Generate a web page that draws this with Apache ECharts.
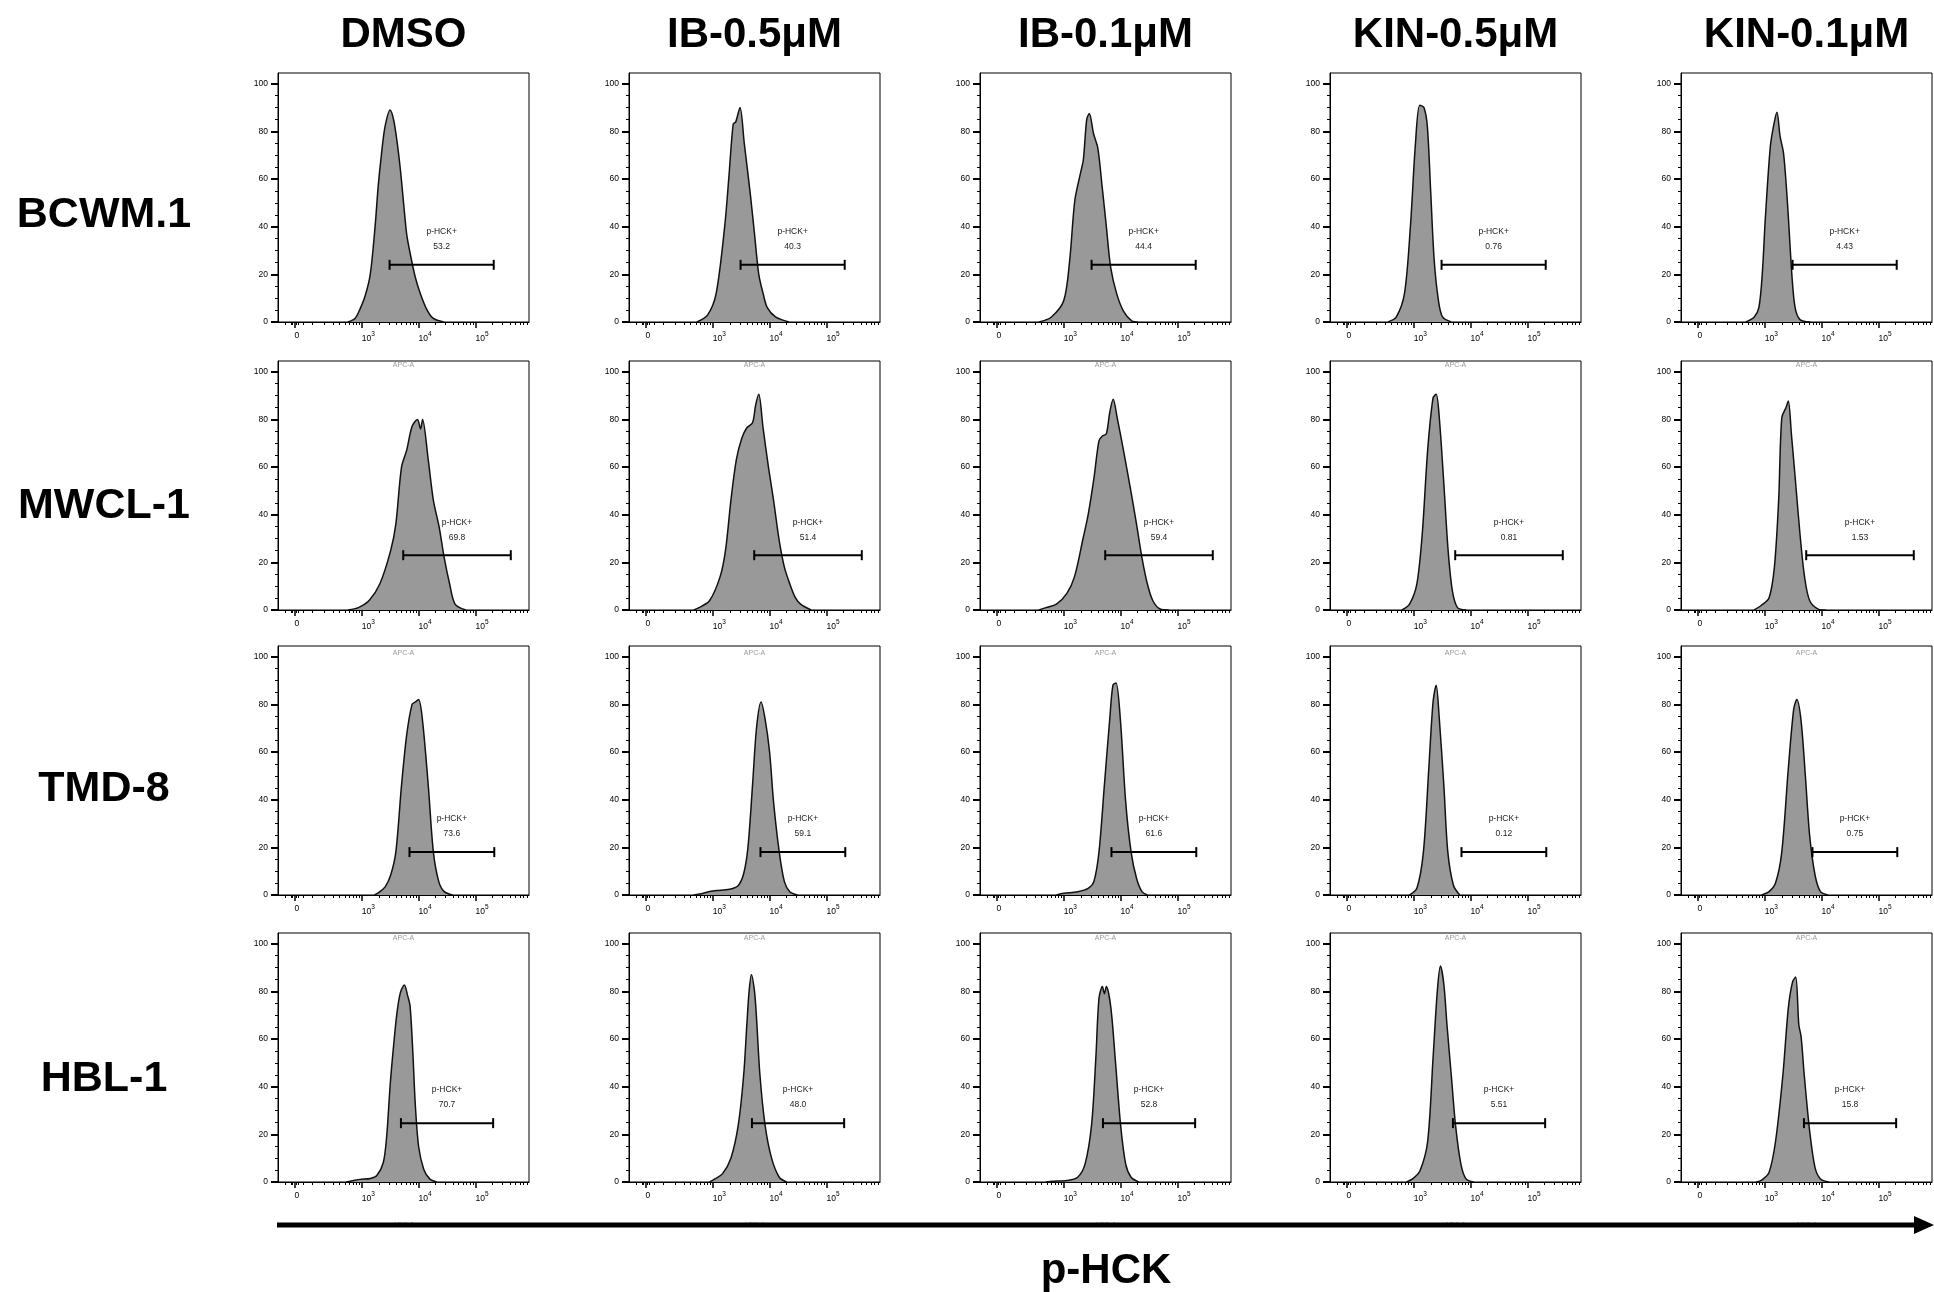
<!DOCTYPE html>
<html>
<head>
<meta charset="utf-8">
<title>p-HCK flow histograms</title>
<script src="https://cdn.jsdelivr.net/npm/echarts@6/dist/echarts.min.js"></script>
<style>
    html, body { margin: 0; padding: 0; background: #fff; }
    #main { width: 1934px; height: 1292px; }
</style>
</head>
<body>
<div id="main"></div>
<script>
// column / row headers
const conditions = ['DMSO', 'IB-0.5μM', 'IB-0.1μM', 'KIN-0.5μM', 'KIN-0.1μM'];
const cellLines = ['BCWM.1', 'MWCL-1', 'TMD-8', 'HBL-1'];

// % p-HCK+ shown under each gate (order = conditions)
const pctBCWM1 = ['53.2', '40.3', '44.4', '0.76', '4.43'];
const pctMWCL1 = ['69.8', '51.4', '59.4', '0.81', '1.53'];
const pctTMD8 = ['73.6', '59.1', '61.6', '0.12', '0.75'];
const pctHBL1 = ['70.7', '48.0', '52.8', '5.51', '15.8'];

// gate: [log10 APC-A start, log10 APC-A end, height in % of max]
const gateBCWM1 = [3.49, 5.32, 24];
const gateMWCL1 = [3.73, 5.62, 23];
const gateTMD8 = [3.84, 5.33, 18];
const gateHBL1 = [3.69, 5.31, 24.7];

// histograms: [log10 APC-A, % of max], one curve per condition
const histBCWM1 = [
    [[2.75,0],[2.88,1.5],[2.97,5.5],[3.06,11],[3.15,20],[3.235,40],[3.29,57],[3.35,71],[3.41,82],[3.5,89],[3.56,85],[3.62,76],[3.68,64],[3.74,49],[3.79,37],[3.85,29],[3.94,19],[4.03,12],[4.15,5],[4.26,1.5],[4.44,0]],
    [[2.715,0],[2.91,3],[3.06,12],[3.21,40],[3.285,61],[3.36,83],[3.405,84],[3.48,90],[3.555,75],[3.66,54],[3.735,37],[3.81,20],[3.886,12],[3.96,6],[4.11,2],[4.34,0]],
    [[2.55,0],[2.775,2],[3.0,9],[3.105,26],[3.195,51],[3.3,63],[3.345,68],[3.405,85],[3.45,87.5],[3.525,79],[3.6,73],[3.675,57],[3.75,40],[3.825,23],[3.93,12],[4.05,4.6],[4.2,0.4],[4.3,0]],
    [[2.535,0],[2.685,2],[2.835,12],[2.94,40],[3.03,75],[3.105,91],[3.18,90],[3.24,82],[3.3,54],[3.36,26],[3.435,9],[3.51,2],[3.66,0]],
    [[2.66,0],[2.81,2],[2.895,6],[2.955,20],[3.01,43.5],[3.1,74],[3.17,84],[3.215,88],[3.27,78],[3.33,71],[3.38,57],[3.42,42.5],[3.48,19],[3.535,6],[3.62,1],[3.8,0]]
];
const histMWCL1 = [
    [[2.755,0],[2.94,1],[3.13,4],[3.32,11],[3.51,25],[3.6,36],[3.7,60],[3.79,67],[3.885,77],[3.98,80],[4.035,76],[4.07,80],[4.17,63],[4.26,46],[4.36,35],[4.45,22],[4.545,11],[4.64,2.5],[4.83,0]],
    [[2.66,0],[2.755,1],[2.945,4],[3.13,14],[3.225,25],[3.32,46],[3.415,63],[3.51,72],[3.6,76.5],[3.7,78.6],[3.755,86],[3.81,90.5],[3.885,76.5],[3.98,60],[4.07,46],[4.17,29],[4.26,18],[4.355,11],[4.45,5.3],[4.545,2.5],[4.73,0]],
    [[2.55,0],[2.68,1],[2.87,2.5],[3.055,7],[3.19,14],[3.34,30],[3.43,40],[3.53,55],[3.62,71],[3.68,73],[3.75,74],[3.81,83],[3.87,88.4],[3.94,80.7],[4.055,66.5],[4.19,48.6],[4.28,36],[4.375,22],[4.47,11],[4.565,4],[4.695,0.4],[4.845,0]],
    [[2.79,0],[2.925,2.5],[3.055,11],[3.15,32],[3.245,67],[3.34,89],[3.395,90.5],[3.45,80.7],[3.53,53],[3.605,25],[3.68,8],[3.77,1],[3.92,0]],
    [[2.81,0],[2.94,2],[3.075,5],[3.17,18],[3.245,46],[3.3,80.7],[3.375,85],[3.415,87.7],[3.47,73.7],[3.545,53],[3.62,32],[3.7,14],[3.79,4],[3.94,0.4],[4.07,0]]
];
const histTMD8 = [
    [[3.225,0],[3.32,1.4],[3.415,3.5],[3.51,8.4],[3.6,18],[3.7,46],[3.79,67],[3.885,80],[3.94,81],[4.0,82],[4.07,73],[4.17,46],[4.26,18],[4.355,5.6],[4.45,1.4],[4.6,0]],
    [[2.66,0],[2.79,0.5],[2.945,1.5],[3.13,2],[3.32,2.5],[3.45,4],[3.545,9],[3.62,20],[3.7,46],[3.77,70],[3.85,81],[3.92,74],[4.0,60],[4.07,39],[4.17,18],[4.26,5.6],[4.355,1.4],[4.49,0]],
    [[2.87,0],[3.0,0.7],[3.245,1.4],[3.43,2.8],[3.53,5.6],[3.62,18],[3.715,46],[3.81,74],[3.865,88],[3.92,89],[3.995,74],[4.09,39],[4.185,18],[4.28,7],[4.375,1.4],[4.47,0]],
    [[2.925,0],[3.055,2.8],[3.17,18],[3.265,53],[3.34,81],[3.395,88],[3.45,74],[3.53,46],[3.6,18],[3.7,4],[3.81,0]],
    [[2.945,0],[3.075,1.4],[3.19,5],[3.3,18],[3.415,53],[3.51,78],[3.565,82],[3.64,73],[3.715,50],[3.79,25],[3.885,8.4],[3.98,1.4],[4.11,0]]
];
const histHBL1 = [
    [[2.72,0],[2.85,0.6],[2.97,1.1],[3.15,1.5],[3.265,2.7],[3.38,8.2],[3.44,19.4],[3.5,40.5],[3.56,57],[3.62,71],[3.68,79.5],[3.75,82.7],[3.81,78],[3.85,74],[3.9,54],[3.94,33.4],[4.0,15],[4.09,5.4],[4.2,1.2],[4.32,0]],
    [[2.945,0],[3.04,1.3],[3.17,3.4],[3.32,10],[3.45,24],[3.545,45],[3.6,66],[3.64,80],[3.68,87],[3.735,80],[3.77,69],[3.83,45],[3.92,24],[4.035,10],[4.17,2],[4.3,0]],
    [[2.68,0],[2.81,0.3],[3.055,0.6],[3.245,2],[3.375,7.5],[3.49,24],[3.565,52],[3.62,77],[3.68,82],[3.715,79],[3.75,82],[3.83,73],[3.905,52],[4.0,24],[4.09,7.5],[4.185,2],[4.32,0]],
    [[2.87,0],[2.98,1.3],[3.11,4.7],[3.245,17],[3.34,52],[3.415,80],[3.47,90.6],[3.53,83],[3.585,66],[3.66,45],[3.735,24],[3.83,7.5],[3.92,1.3],[4.055,0]],
    [[2.85,0],[2.945,0.8],[3.075,4],[3.19,17],[3.32,45],[3.415,73],[3.49,84],[3.545,86],[3.6,66],[3.64,61],[3.695,45],[3.79,21.5],[3.885,6],[3.98,1.3],[4.13,0]]
];

// axis ticks (APC-A raw values and % of max)
const xMajorTicks = [0, 1000, 10000, 100000];
const xMinorTicks = [-100, -50, -20, -10, 10, 20, 50, 100,
    200, 300, 400, 500, 600, 700, 800, 900,
    2000, 3000, 4000, 5000, 6000, 7000, 8000, 9000,
    20000, 30000, 40000, 50000, 60000, 70000, 80000, 90000,
    200000, 300000, 400000, 500000, 600000, 700000, 800000];
const yMajorTicks = [0, 20, 40, 60, 80, 100];
const yMinorTicks = [5, 10, 15, 25, 30, 35, 45, 50, 55, 65, 70, 75, 85, 90, 95];

// biexponential-like display transform (FlowJo style)
const BIEX_C = Math.pow(10, 1.82);
function disp(v) {
    return Math.log10(BIEX_C) + Math.asinh(v / (2 * BIEX_C)) / Math.LN10;
}
const X_MIN = 1.53, X_MAX = 5.94;
const Y_MAX = 104.5;

// layout
const colLeft = [278, 629, 980, 1330, 1681];
const rowTop = [73, 361, 646, 933];
const rowLabelY = [215, 506, 789, 1079];
const panelW = 251, panelH = 249;
const FONT = '"Liberation Sans", Arial, sans-serif';

const hists = [histBCWM1, histMWCL1, histTMD8, histHBL1];
const pcts = [pctBCWM1, pctMWCL1, pctTMD8, pctHBL1];
const gates = [gateBCWM1, gateMWCL1, gateTMD8, gateHBL1];

function gateRenderer(pct) {
    return function(params, api) {
        const a = api.coord([api.value(0), api.value(2)]);
        const b = api.coord([api.value(1), api.value(2)]);
        const mid = (a[0] + b[0]) / 2;
        const st = { stroke: '#000', lineWidth: 2 };
        const txt = function(t, y) {
            return {
                type: 'text', x: mid, y: y,
                style: { text: t, fill: '#222', font: '8.5px ' + FONT,
                    align: 'center', verticalAlign: 'middle',
                    textAlign: 'center', textVerticalAlign: 'middle' }
            };
        };
        return {
            type: 'group',
            children: [
                { type: 'line', shape: { x1: a[0], y1: a[1], x2: b[0], y2: b[1] }, style: st },
                { type: 'line', shape: { x1: a[0], y1: a[1] - 5, x2: a[0], y2: a[1] + 5 }, style: st },
                { type: 'line', shape: { x1: b[0], y1: b[1] - 5, x2: b[0], y2: b[1] + 5 }, style: st },
                txt('p-HCK+', a[1] - 33),
                txt(pct, a[1] - 18)
            ]
        };
    };
}

const grids = [], xAxes = [], yAxes = [], series = [];
const xMajorPos = xMajorTicks.map(disp);
const xMinorPos = xMinorTicks.map(disp);

for (let r = 0; r < cellLines.length; r++) {
    for (let c = 0; c < conditions.length; c++) {
        const gi = grids.length;
        grids.push({
            left: colLeft[c], top: rowTop[r], width: panelW, height: panelH,
            show: true, borderColor: '#000', borderWidth: 1, backgroundColor: 'transparent'
        });
        xAxes.push({
            gridIndex: gi, type: 'value', min: X_MIN, max: X_MAX, position: 'bottom', offset: 0,
            axisLine: { show: true, onZero: false, lineStyle: { color: '#000', width: 1 } },
            axisTick: { customValues: xMajorPos, length: 6, lineStyle: { color: '#000', width: 1.5 } },
            axisLabel: {
                customValues: xMajorPos, margin: 9, color: '#000', fontSize: 8.5, fontFamily: FONT,
                align: 'left',
                formatter: function(v) {
                    if (v < 2.5) return '{b|0}';
                    return '{b|10}{s|' + Math.round(v) + '}';
                },
                rich: {
                    b: { fontSize: 8.5, fontFamily: FONT, color: '#000', verticalAlign: 'bottom' },
                    s: { fontSize: 6.5, fontFamily: FONT, color: '#000', verticalAlign: 'top', padding: [0, 0, 5, 0] }
                }
            },
            splitLine: { show: false },
            name: 'APC-A', nameLocation: 'middle', nameGap: 40,
            nameTextStyle: { fontSize: 7, color: '#999', fontFamily: FONT }
        });
        xAxes.push({
            gridIndex: gi, type: 'value', min: X_MIN, max: X_MAX, position: 'bottom', offset: 0,
            axisLine: { show: false },
            axisTick: { show: true, customValues: xMinorPos, length: 3, lineStyle: { color: '#000', width: 1 } },
            axisLabel: { show: false },
            splitLine: { show: false }
        });
        yAxes.push({
            gridIndex: gi, type: 'value', min: 0, max: Y_MAX, position: 'left',
            axisLine: { show: true, lineStyle: { color: '#000', width: 1 } },
            axisTick: { customValues: yMajorTicks, length: 7, lineStyle: { color: '#000', width: 2 } },
            axisLabel: { customValues: yMajorTicks, margin: 10, color: '#000', fontSize: 8.5, fontFamily: FONT },
            splitLine: { show: false }
        });
        yAxes.push({
            gridIndex: gi, type: 'value', min: 0, max: Y_MAX, position: 'left', offset: 0,
            axisLine: { show: false },
            axisTick: { show: true, customValues: yMinorTicks, length: 3, lineStyle: { color: '#000', width: 1 } },
            axisLabel: { show: false },
            splitLine: { show: false }
        });

        const curve = hists[r][c].map(p => [disp(Math.pow(10, p[0])), p[1]]);
        series.push({
            type: 'line',
            xAxisIndex: 2 * gi, yAxisIndex: 2 * gi,
            data: curve,
            smooth: 0.3,
            showSymbol: false,
            silent: true,
            lineStyle: { color: '#111', width: 1.5 },
            areaStyle: { color: '#999999', opacity: 1 }
        });

        const g = gates[r];
        series.push({
            type: 'custom',
            xAxisIndex: 2 * gi, yAxisIndex: 2 * gi,
            clip: false,
            silent: true,
            encode: { x: [0, 1], y: 2 },
            data: [[disp(Math.pow(10, g[0])), disp(Math.pow(10, g[1])), g[2]]],
            renderItem: gateRenderer(pcts[r][c]),
            z: 5
        });
    }
}

function label(text, x, y, size) {
    return {
        type: 'text', x: x, y: y, z: 50,
        style: { text: text, fill: '#000', font: 'bold ' + size + 'px ' + FONT,
            align: 'center', verticalAlign: 'middle',
            textAlign: 'center', textVerticalAlign: 'middle' }
    };
}

const graphics = [];
conditions.forEach(function(name, c) {
    graphics.push(label(name, colLeft[c] + panelW / 2, 35, 42));
});
cellLines.forEach(function(name, r) {
    graphics.push(label(name, 104, rowLabelY[r], 43));
});
// p-HCK axis arrow
graphics.push({
    type: 'line', z: 60,
    shape: { x1: 277, y1: 1225, x2: 1918, y2: 1225 },
    style: { stroke: '#000', lineWidth: 5 }
});
graphics.push({
    type: 'polygon', z: 60,
    shape: { points: [[1914, 1216], [1934, 1225], [1914, 1234]] },
    style: { fill: '#000' }
});
graphics.push(label('p-HCK', 1106, 1271, 42));

const chart = echarts.init(document.getElementById('main'));
chart.setOption({
    animation: false,
    backgroundColor: '#fff',
    textStyle: { fontFamily: FONT },
    grid: grids,
    xAxis: xAxes,
    yAxis: yAxes,
    series: series,
    graphic: graphics
});
</script>
</body>
</html>
